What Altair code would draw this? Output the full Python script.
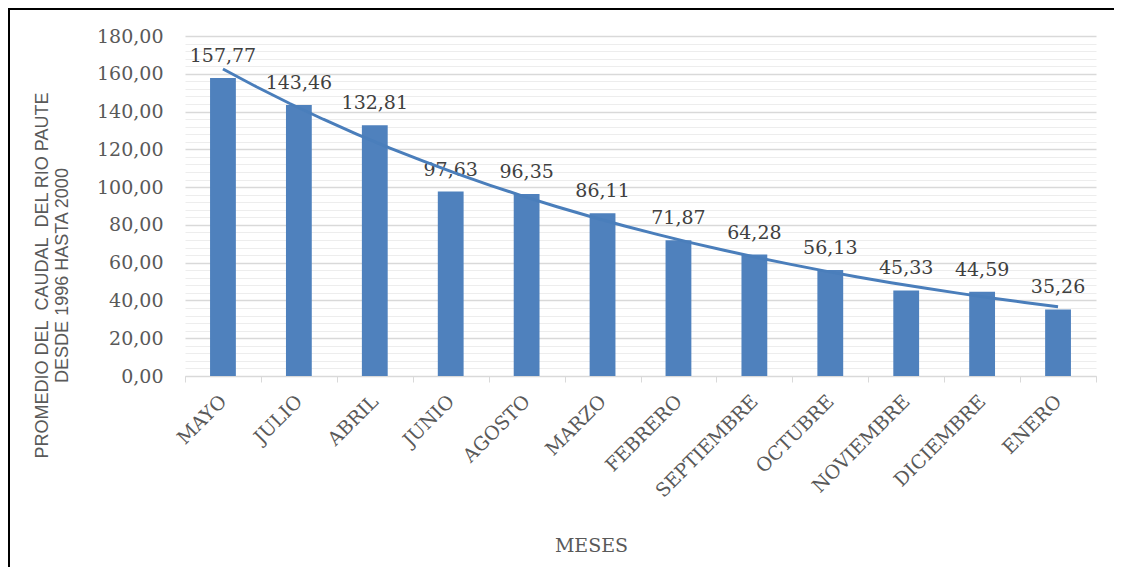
import altair as alt
import pandas as pd

# ---- data ----
meses = ["MAYO", "JULIO", "ABRIL", "JUNIO", "AGOSTO", "MARZO", "FEBRERO",
         "SEPTIEMBRE", "OCTUBRE", "NOVIEMBRE", "DICIEMBRE", "ENERO"]
valores = [157.77, 143.46, 132.81, 97.63, 96.35, 86.11, 71.87,
           64.28, 56.13, 45.33, 44.59, 35.26]
orden = list(range(1, 13))
y_ticks = list(range(0, 181, 4))          # major every 20, minor every 4
y_title = ["PROMEDIO DEL\u00a0 CAUDAL\u00a0 DEL RIO PAUTE", "DESDE 1996 HASTA 2000"]
x_title = "MESES"

df = pd.DataFrame({"mes": meses, "valor": valores, "idx": orden})

W, H = 911, 340
PAD = {"left": 177, "top": 28, "right": 18, "bottom": 191}

BAR = "#4F81BD"
LINE = "#4A7EBB"
GRID_MAJOR = "#D9D9D9"
GRID_MINOR = "#EDEDED"
TXT = "#595959"
SERIF = "DejaVu Serif"
SANS = "Liberation Sans"

fmt_lbl = "replace(format(datum.valor, '.2f'), '.', ',')"

x_band = alt.Scale(paddingInner=0, paddingOuter=0)
y_scale = alt.Scale(domain=[0, 180], nice=False, zero=True)

x_axis = alt.Axis(
    labelAngle=-45, labelAlign="right", labelBaseline="middle",
    labelFont=SERIF, labelFontSize=19, labelColor=TXT,
    labelPadding=16, labelOverlap=False, labelLimit=400,
    tickBand="extent", tickSize=6, tickColor=GRID_MAJOR,
    domainColor=GRID_MAJOR, domainWidth=1, grid=False,
    title=x_title, titleFont=SERIF, titleFontSize=19,
    titleFontWeight="normal", titleColor=TXT,
    titleX=406, titleY=169, titleAlign="center",
    titleBaseline="middle")

y_axis = alt.Axis(
    values=y_ticks,
    labelExpr="datum.value % 20 === 0 ? replace(format(datum.value, '.2f'), '.', ',') : ''",
    labelFont=SERIF, labelFontSize=19, labelColor=TXT,
    labelPadding=22, labelOverlap=False,
    ticks=False, domain=False, grid=True,
    gridColor={"condition": {"test": "datum.value % 20 === 0", "value": GRID_MAJOR},
               "value": GRID_MINOR},
    gridWidth={"condition": {"test": "datum.value % 20 === 0", "value": 1.5},
               "value": 1},
    title=y_title, titleFont=SANS, titleFontSize=18,
    titleFontWeight="normal", titleColor=TXT, titleLineHeight=20,
    titleX=-143, titleY=239, titleAngle=-90,
    titleAlign="center", titleBaseline="middle")

base = alt.Chart(df)

bars = base.mark_bar(color=BAR, width=alt.RelativeBandSize(0.34)).encode(
    x=alt.X("mes:N", sort=None, scale=x_band, axis=x_axis),
    y=alt.Y("valor:Q", scale=y_scale, axis=y_axis),
)

labels = base.transform_calculate(lbl=fmt_lbl).mark_text(
    font=SERIF, fontSize=19, color="#404040", baseline="alphabetic", dy=-16
).encode(
    x=alt.X("mes:N", sort=None, scale=x_band, axis=x_axis),
    y=alt.Y("valor:Q", scale=y_scale, axis=y_axis),
    text="lbl:N",
)

# chart frame (top and left edges visible in the reference)
frame_df = pd.DataFrame({"k": [0]})
frame_left = alt.Chart(frame_df).mark_rule(color="black", strokeWidth=2).encode(
    x=alt.value(-176), y=alt.value(-28), y2=alt.value(H + 191)
)
frame_top = alt.Chart(frame_df).mark_rule(color="black", strokeWidth=2).encode(
    x=alt.value(-177), x2=alt.value(W + 18), y=alt.value(-27)
)

main = alt.layer(bars, labels, frame_left, frame_top)

# exponential trend line (least squares on ln(y), like Excel)
trend = base.transform_calculate(ln="log(datum.valor)").transform_regression(
    "idx", "ln", method="poly", order=1, extent=[1, 12]
).transform_calculate(trend="exp(datum.ln)").mark_line(
    color=LINE, strokeWidth=3
).encode(
    x=alt.X("idx:Q", scale=alt.Scale(domain=[0.5, 12.5], nice=False, zero=False), axis=None),
    y=alt.Y("trend:Q", scale=y_scale, axis=y_axis),
)

chart = alt.layer(main, trend).resolve_scale(x="independent").properties(
    width=W, height=H, padding=PAD, autosize="none", background="white"
).configure_view(stroke=None)

chart.save("out.html", embed_options={"renderer": "svg", "actions": False})
